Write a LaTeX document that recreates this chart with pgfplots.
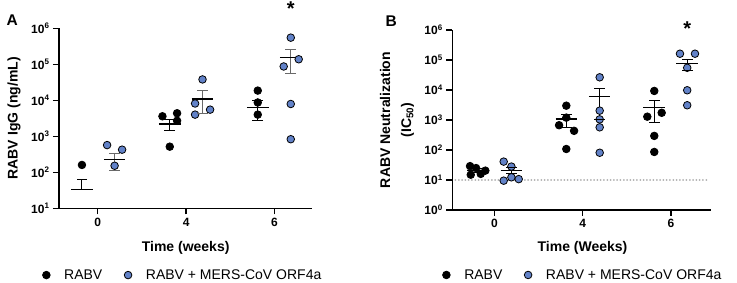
\documentclass[border=0pt]{standalone}
\usepackage{pgfplots}
\pgfplotsset{compat=1.18}
\usepackage{fontspec}
\setmainfont{Liberation Sans}
\definecolor{myblue}{RGB}{98,130,200}
\definecolor{bargray}{RGB}{105,105,105}
\definecolor{dotgray}{RGB}{175,175,175}
\pgfplotsset{
 mydots/.style={only marks, mark=*, mark size=3.8pt, mark options={draw=black, fill=#1, line width=0.8pt}},
 mymean/.style={black, line width=1.4pt, forget plot},
 myerr/.style={color=#1, line width=1pt, mark=-, mark size=5.3pt, mark options={solid, line width=1pt}, forget plot},
}
\begin{document}
\begin{tikzpicture}
\useasboundingbox (0,0) rectangle (737pt,283pt);
\node[anchor=base west, font=\fontsize{15.5}{16}\selectfont\bfseries] at (3pt,257pt) {A};
\node[anchor=base west, font=\fontsize{15.5}{16}\selectfont\bfseries] at (382pt,256.3pt) {B};
% ---------------- Panel A ----------------
\begin{axis}[scale only axis, height=180pt, width=253.3pt, at={(59pt,74.7pt)}, anchor=south west,
  ymode=log, log basis y=10,
  axis x line*=bottom, axis y line*=left,
  axis line style={line width=1.2pt, black},
  tick align=outside, major tick length=6pt,
  tick style={line width=1.2pt, black},
  yminorticks=false,
  xtick={0,1,2}, xticklabels={0,4,6},
  ticklabel style={font=\fontsize{12}{14}\selectfont\bfseries},
  clip=false,
  legend style={draw=none, fill=none, legend columns=2, anchor=west, at={(-0.097,-0.371)},
    font=\fontsize{14}{16}\selectfont,
    /tikz/every even column/.append style={column sep=15pt}},
  legend image code/.code={\draw[#1] plot coordinates {(0.3cm,0cm)}; \path (0cm,0cm) (0.85cm,0cm);},
  xmin=-0.44, xmax=2.43, ymin=10, ymax=1e6,
  ytick={10,100,1000,10000,100000,1000000},
  yticklabels={10\textsuperscript{1},10\textsuperscript{2},10\textsuperscript{3},10\textsuperscript{4},10\textsuperscript{5},10\textsuperscript{6}},
  ylabel={RABV IgG (ng/mL)},
  xlabel={Time (weeks)},
  every axis y label/.style={at={(axis description cs:-0.178,0.5)}, rotate=90, anchor=center, font=\fontsize{14}{21}\selectfont\bfseries},
  every axis x label/.style={at={(axis description cs:0.5,-0.241)}, anchor=base, font=\fontsize{14}{21}\selectfont\bfseries},
]
\addplot[mydots=black] coordinates {(-0.18,160) (0.732,3600) (0.898,4370) (0.898,2700) (0.815,515) (1.812,18600) (1.812,8700) (1.812,4000)};
\addlegendentry{RABV}
\addplot[mydots=myblue] coordinates {(0.105,570) (0.275,425) (0.19,152) (1.186,38000) (1.102,8150) (1.272,5500) (1.102,4000) (2.186,550000) (2.276,138000) (2.106,87000) (2.186,7900) (2.186,830)};
\addlegendentry{RABV + MERS-CoV ORF4a}
\addplot[myerr=black] coordinates {(-0.18,33) (-0.18,64)};
\addplot[mymean] coordinates {(-0.302,33) (-0.058,33)};
\addplot[myerr=black] coordinates {(0.815,1410) (0.815,2960)};
\addplot[mymean] coordinates {(0.693,2190) (0.937,2190)};
\addplot[myerr=black] coordinates {(1.812,2800) (1.812,9600)};
\addplot[mymean] coordinates {(1.690,6200) (1.934,6200)};
\addplot[myerr=bargray] coordinates {(0.19,115) (0.19,340)};
\addplot[mymean] coordinates {(0.068,229) (0.312,229)};
\addplot[myerr=bargray] coordinates {(1.186,4360) (1.186,18200)};
\addplot[mymean] coordinates {(1.064,11000) (1.308,11000)};
\addplot[myerr=bargray] coordinates {(2.186,56000) (2.186,253000)};
\addplot[mymean] coordinates {(2.064,152000) (2.308,152000)};
\node[anchor=base, font=\fontsize{20}{20}\selectfont\bfseries] at (axis cs:2.186,2.3e6) {*};
\end{axis}
% ---------------- Panel B ----------------
\begin{axis}[scale only axis, height=180pt, width=258.4pt, at={(452.3pt,73pt)}, anchor=south west,
  ymode=log, log basis y=10,
  axis x line*=bottom, axis y line*=left,
  axis line style={line width=1.2pt, black},
  tick align=outside, major tick length=6pt,
  tick style={line width=1.2pt, black},
  yminorticks=false,
  xtick={0,1,2}, xticklabels={0,4,6},
  ticklabel style={font=\fontsize{12}{14}\selectfont\bfseries},
  clip=false,
  legend style={draw=none, fill=none, legend columns=2, anchor=west, at={(-0.069,-0.361)},
    font=\fontsize{14}{16}\selectfont,
    /tikz/every even column/.append style={column sep=15pt}},
  legend image code/.code={\draw[#1] plot coordinates {(0.3cm,0cm)}; \path (0cm,0cm) (0.85cm,0cm);},
  xmin=-0.476, xmax=2.45, ymin=1, ymax=1e6,
  ytick={1,10,100,1000,10000,100000,1000000},
  yticklabels={10\textsuperscript{0},10\textsuperscript{1},10\textsuperscript{2},10\textsuperscript{3},10\textsuperscript{4},10\textsuperscript{5},10\textsuperscript{6}},
  ylabel={RABV Neutralization\\(IC\textsubscript{50})},
  xlabel={Time (Weeks)},
  every axis y label/.style={at={(axis description cs:-0.214,0.5)}, rotate=90, anchor=center, align=center, font=\fontsize{14}{21}\selectfont\bfseries},
  every axis x label/.style={at={(axis description cs:0.504,-0.233)}, anchor=base, font=\fontsize{14}{21}\selectfont\bfseries},
]
\addplot[dotgray, line width=2pt, line cap=round, dash pattern=on 0pt off 3.3pt, forget plot] coordinates {(-0.44,10) (2.43,10)};
\addplot[mydots=black] coordinates {(-0.275,29) (-0.267,15) (-0.207,25) (-0.154,16) (-0.102,20.5) (0.815,3000) (0.815,1200) (0.733,670) (0.903,435) (0.815,108) (1.811,9300) (1.732,1290) (1.895,1740) (1.811,295) (1.811,86)};
\addlegendentry{RABV}
\addplot[mydots=myblue] coordinates {(0.106,41) (0.193,28) (0.106,9.5) (0.193,12.3) (0.276,10.7) (1.193,26500) (1.193,2050) (1.193,1050) (1.193,570) (1.193,81) (2.102,162000) (2.272,162000) (2.184,55000) (2.184,9800) (2.184,3100)};
\addlegendentry{RABV + MERS-CoV ORF4a}
\addplot[myerr=black] coordinates {(-0.19,17.5) (-0.19,24.5)};
\addplot[mymean] coordinates {(-0.312,21) (-0.068,21)};
\addplot[myerr=black] coordinates {(0.815,570) (0.815,1550)};
\addplot[mymean] coordinates {(0.693,1070) (0.937,1070)};
\addplot[myerr=black] coordinates {(1.811,840) (1.811,4300)};
\addplot[mymean] coordinates {(1.689,2600) (1.933,2600)};
\addplot[myerr=black] coordinates {(0.193,16) (0.193,27)};
\addplot[mymean] coordinates {(0.071,20.5) (0.315,20.5)};
\addplot[myerr=black] coordinates {(1.193,1000) (1.193,11000)};
\addplot[mymean] coordinates {(1.071,6000) (1.315,6000)};
\addplot[myerr=black] coordinates {(2.184,43000) (2.184,107000)};
\addplot[mymean] coordinates {(2.062,77000) (2.306,77000)};
\node[anchor=base, font=\fontsize{20}{20}\selectfont\bfseries] at (axis cs:2.184,6.6e5) {*};
\end{axis}
\end{tikzpicture}
\end{document}
